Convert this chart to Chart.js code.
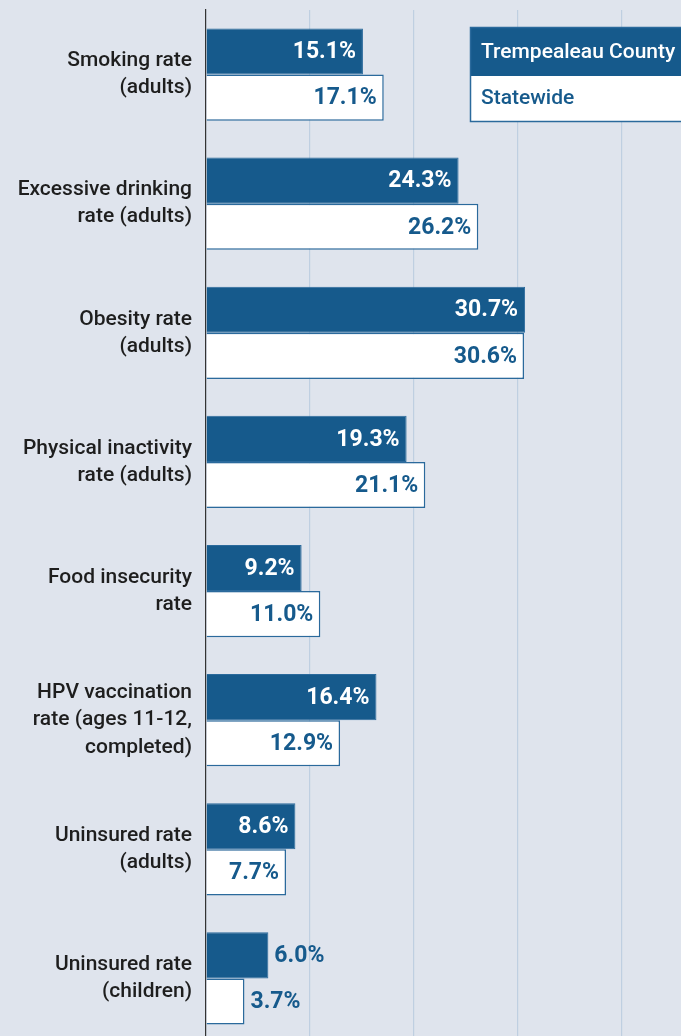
<!DOCTYPE html>
<html>
<head>
<meta charset="utf-8">
<script src="https://cdn.jsdelivr.net/npm/chart.js@4/dist/chart.umd.min.js"></script>
<style>
  html, body { margin: 0; padding: 0; overflow: hidden; background: #dfe4ed; }
  #wrap { position: relative; width: 681px; height: 1043px; }
</style>
</head>
<body>
<div id="wrap"><canvas id="myChart"></canvas></div>
<script>
// categories (multi-line labels)
const categories = [
  ['Smoking rate', '(adults)'],
  ['Excessive drinking', 'rate (adults)'],
  ['Obesity rate', '(adults)'],
  ['Physical inactivity', 'rate (adults)'],
  ['Food insecurity', 'rate'],
  ['HPV vaccination', 'rate (ages 11-12,', 'completed)'],
  ['Uninsured rate', '(adults)'],
  ['Uninsured rate', '(children)']
];
const countyName = 'Trempealeau County';
const stateName = 'Statewide';
const countyValues = [15.1, 24.3, 30.7, 19.3, 9.2, 16.4, 8.6, 6.0];
const stateValues = [17.1, 26.2, 30.6, 21.1, 11.0, 12.9, 7.7, 3.7];
const gridTicks = [0, 10, 20, 30, 40];

const darkBlue = '#165a8c';
const lineBlue = '#2b6a9c';
const valueFont = 'bold 23px Roboto';

// draws the value labels at the bar ends
const valueLabels = {
  id: 'valueLabels',
  afterDatasetsDraw(chart) {
    const ctx = chart.ctx;
    ctx.save();
    ctx.font = valueFont;
    ctx.textBaseline = 'middle';
    chart.data.datasets.forEach((ds, i) => {
      const meta = chart.getDatasetMeta(i);
      meta.data.forEach((bar, j) => {
        const txt = ds.data[j].toFixed(1) + '%';
        const w = ctx.measureText(txt).width;
        const barW = bar.x - bar.base;
        if (barW > w + 14) {
          ctx.textAlign = 'right';
          ctx.fillStyle = i === 0 ? '#ffffff' : darkBlue;
          ctx.fillText(txt, bar.x - 7, bar.y + 1);
        } else {
          ctx.textAlign = 'left';
          ctx.fillStyle = darkBlue;
          ctx.fillText(txt, bar.x + 6, bar.y + 1);
        }
      });
    });
    ctx.restore();
  }
};

// boxed legend in the upper right
const boxLegend = {
  id: 'boxLegend',
  afterDraw(chart) {
    const ctx = chart.ctx;
    const x = 470, y = 27, w = 230, h1 = 49, h2 = 45;
    ctx.save();
    ctx.fillStyle = darkBlue;
    ctx.fillRect(x, y, w, h1);
    ctx.fillStyle = '#ffffff';
    ctx.fillRect(x, y + h1, w, h2);
    ctx.strokeStyle = lineBlue;
    ctx.lineWidth = 1.5;
    ctx.strokeRect(x + 0.5, y + 0.5, w, h1 + h2);
    ctx.font = '500 21px Roboto';
    ctx.textBaseline = 'middle';
    ctx.textAlign = 'left';
    ctx.fillStyle = '#ffffff';
    ctx.fillText(countyName, x + 11, y + h1 / 2 + 1);
    ctx.fillStyle = darkBlue;
    ctx.fillText(stateName, x + 11, y + h1 + h2 / 2);
    ctx.restore();
  }
};

const data = {
  labels: categories,
  datasets: [{
    label: countyName,
    data: countyValues,
    backgroundColor: darkBlue,
    borderColor: lineBlue,
    borderWidth: 1
  }, {
    label: stateName,
    data: stateValues,
    backgroundColor: '#ffffff',
    borderColor: lineBlue,
    borderWidth: 1.5
  }]
};

const config = {
  type: 'bar',
  data: data,
  options: {
    indexAxis: 'y',
    responsive: true,
    maintainAspectRatio: false,
    animation: false,
    layout: { padding: { top: 10, right: 0, bottom: 0, left: 0 } },
    datasets: { bar: { categoryPercentage: 0.715, barPercentage: 1 } },
    plugins: { legend: { display: false }, tooltip: { enabled: false } },
    scales: {
      x: {
        min: 0,
        max: 45.7,
        afterBuildTicks(scale) { scale.ticks = gridTicks.map(v => ({ value: v })); },
        afterFit(scale) { scale.height = 0; scale.paddingLeft = 0; scale.paddingRight = 0; },
        ticks: { display: false },
        border: { display: false },
        grid: { color: '#bfcfe1', lineWidth: 1.2, drawTicks: false }
      },
      y: {
        afterFit(scale) { scale.width = 206; scale.paddingTop = 0; scale.paddingBottom = 0; },
        grid: { display: false, drawTicks: false },
        border: { display: true, color: '#333333', width: 1.2 },
        ticks: {
          padding: 14,
          color: '#1e1e1e',
          font: { family: 'Roboto', size: 21, weight: '500', lineHeight: 1.29 }
        }
      }
    }
  },
  plugins: [valueLabels, boxLegend]
};

const ctx = document.getElementById('myChart').getContext('2d');
const myChart = new Chart(ctx, config);
</script>
</body>
</html>
